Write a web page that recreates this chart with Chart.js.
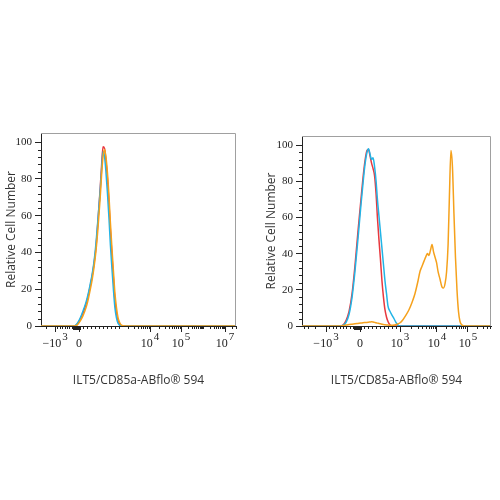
<!DOCTYPE html>
<html><head><meta charset="utf-8">
<script src="https://cdn.jsdelivr.net/npm/chart.js@4/dist/chart.umd.min.js"></script>
<style>html,body{margin:0;padding:0;background:#fff;width:500px;height:500px;overflow:hidden}canvas{position:absolute}</style>
</head><body>
<canvas id="left" width="250" height="280" style="left:0;top:120px"></canvas>
<canvas id="right" width="240" height="280" style="left:260px;top:120px"></canvas>
<script>
// ---- text ----
const axisTitleX = 'ILT5/CD85a-ABflo® 594';
const axisTitleY = 'Relative Cell Number';

// ---- y axis ----
const yTickValues = [0, 20, 40, 60, 80, 100];
const yMinorValues = [4,8,12,16,24,28,32,36,44,48,52,56,64,68,72,76,84,88,92,96];

// ---- left panel (x in display channels 0..1000) ----
const leftXTickValues = [72, 195, 559, 718, 944];
const leftXTickLabels = [['−10', '3'], ['0', ''], ['10', '4'], ['10', '5'], ['10', '7']];
const leftX = [0,149,169,185,200,215,231,241,251,262,272,282,292,303,310,318,326,333,341,349,356,364,372,379,387,395,405,415,431,1000];
const leftRed = [0,0,0,1,3.5,7,12,16,21,27,34,43,57,74,86,97.5,96.5,90,80,66,52,38,25,14,7,3,1,0,0,0];
const leftBlue = [0,0,0,1.2,4,8,13,17,22,28,35,45,58,73,84,95,92,84,72,58,44,31,19,10,4.5,1.5,0.3,0,0,0];
const leftOrange = [0,0,0,0.5,2.5,5.5,10,14,19,25,32,41,53,69,81,92,96,92,83,70,56,42,29,18,10,4.5,1.5,0.3,0,0];

// ---- right panel ----
const rightXTickValues = [127, 307, 519, 714, 878];
const rightXTickLabels = [['−10', '3'], ['0', ''], ['10', '3'], ['10', '4'], ['10', '5']];
const rightX = [0,95,175,201,217,233,249,265,280,296,312,323,333,344,352,360,368,376,384,392,399,407,415,423,431,439,447,455,466,476,487,497,508,519,534,550,566,582,598,614,624,635,646,656,664,672,680,688,696,704,712,720,730,741,749,757,765,773,780,788,796,804,812,820,828,836,847,862,1000];
const rightRed = [0,0,0,0,0.5,3,8,18,33,52,70,82,91,97,97.5,94,90,87,83,73,60,48,37,25,16,9,5,2.5,0.5,0,0,0,0,0,0,0,0,0,0,0,0,0,0,0,0,0,0,0,0,0,0,0,0,0,0,0,0,0,0,0,0,0,0,0,0,0,0,0,0];
const rightBlue = [0,0,0,0,0.3,2,6.5,16,30,48,67,79,89,96,98,95,92,93,88,80,70,61,52,43,34,25,18,11,8,6,4,2,0.5,0,0,0,0,0,0,0,0,0,0,0,0,0,0,0,0,0,0,0,0,0,0,0,0,0,0,0,0,0,0,0,0,0,0,0,0];
const rightOrange = [0,0,0,0,0.2,0.5,0.8,1.0,1.2,1.4,1.6,1.8,1.9,2.0,2.1,2.2,2.3,2.2,2.0,1.8,1.6,1.4,1.2,1.0,0.8,0.7,0.6,0.5,0.4,0.4,0.5,0.8,1.2,1.8,3.5,6,9,13,18,25,30,33,36,38.5,40,39,42,45,41,38,35,30,26,21.5,21,23.5,30,45,72,97,88,62,38,20,8,2.5,0.5,0,0];

// ---- colours ----
const RED = '#e8383e', BLUE = '#22b4e6', ORANGE = '#f5a11c';

function decadeMinors(a, b) { const o = []; for (let k = 2; k <= 9; k++) o.push(a + (b - a) * Math.log10(k)); return o; }
function linearMinors(a, b) { const o = []; for (let k = 1; k <= 9; k++) o.push(a + (b - a) * k / 10); return o; }
function cluster(z) { const o = []; for (let d = -30; d <= 6; d += 4) o.push(z + d); return o; }

const leftMinors = [].concat(decadeMinors(72, -87), linearMinors(195, 72), linearMinors(195, 400), [400],
  decadeMinors(400, 559), decadeMinors(559, 718), decadeMinors(718, 831), [831], decadeMinors(831, 944), decadeMinors(944, 1057));
const rightMinors = [].concat(decadeMinors(127, -68), linearMinors(307, 127), linearMinors(307, 519),
  decadeMinors(519, 714), decadeMinors(714, 878), decadeMinors(878, 1042));

const decor = {
  id: 'decor',
  afterDraw(chart, args, opts) {
    const ctx = chart.ctx, xs = chart.scales.x, ys = chart.scales.y, a = chart.chartArea;
    ctx.save();
    // top & right frame
    ctx.strokeStyle = '#a0a0a0'; ctx.lineWidth = 1;
    ctx.beginPath();
    ctx.moveTo(a.left, a.top + 0.5); ctx.lineTo(a.right - 0.5, a.top + 0.5); ctx.lineTo(a.right - 0.5, a.bottom);
    ctx.stroke();
    // minor ticks
    ctx.strokeStyle = '#222';
    ctx.beginPath();
    (opts.xMinor || []).forEach(v => {
      if (v < xs.min || v > xs.max) return;
      const p = Math.round(xs.getPixelForValue(v)) + 0.5;
      ctx.moveTo(p, xs.top); ctx.lineTo(p, xs.top + 3);
    });
    (opts.xCluster || []).forEach(v => {
      const p = Math.round(xs.getPixelForValue(v)) + 0.5;
      ctx.moveTo(p, xs.top); ctx.lineTo(p, xs.top + 4);
    });
    (opts.yMinor || []).forEach(v => {
      const p = Math.round(ys.getPixelForValue(v)) + 0.5;
      ctx.moveTo(ys.right, p); ctx.lineTo(ys.right - 3, p);
    });
    ctx.stroke();
    // x tick labels with raised exponents
    ctx.fillStyle = '#222';
    ctx.textBaseline = 'middle';
    ctx.textAlign = 'left';
    const baseFont = '12px "Liberation Serif"', expFont = '11px "Liberation Serif"';
    (opts.xTicks || []).forEach((v, i) => {
      const [base, exp] = opts.xLabels[i];
      ctx.font = baseFont; const wb = ctx.measureText(base).width;
      ctx.font = expFont; const we = exp ? ctx.measureText(exp).width + 1 : 0;
      const x0 = xs.getPixelForValue(v) - (wb + we) / 2;
      ctx.font = baseFont; ctx.fillText(base, x0, xs.top + 18);
      if (exp) { ctx.font = expFont; ctx.fillText(exp, x0 + wb + 1, xs.top + 11); }
    });
    ctx.restore();
  }
};

function build(id, xv, series, xTicks, xLabels, xMinor, zero, yWidth, pad) {
  const mk = (label, arr, color, order) => ({
    label, order, borderColor: color, backgroundColor: color, borderWidth: 1.5,
    pointRadius: 0, fill: false, cubicInterpolationMode: 'monotone',
    data: xv.map((x, i) => ({ x, y: arr[i] }))
  });
  return new Chart(document.getElementById(id), {
    type: 'line',
    data: { datasets: [
      mk('orange', series[2], ORANGE, 0),
      mk('blue', series[1], BLUE, 1),
      mk('red', series[0], RED, 2)
    ] },
    options: {
      responsive: false, animation: false, devicePixelRatio: 1,
      layout: { padding: pad },
      plugins: { legend: { display: false }, tooltip: { enabled: false },
        decor: { xMinor, xCluster: cluster(zero), yMinor: yMinorValues, xTicks, xLabels } },
      scales: {
        x: {
          type: 'linear', min: 0, max: 1000,
          afterBuildTicks: s => { s.ticks = xTicks.map(v => ({ value: v })); },
          afterFit: s => { s.height = 74; },
          grid: { display: true, drawOnChartArea: false, drawTicks: true, tickLength: 6, tickColor: '#222', tickWidth: 1 },
          border: { display: true, color: '#222', width: 1 },
          ticks: { display: false, autoSkip: false, maxRotation: 0 },
          title: { display: true, text: axisTitleX, color: '#333',
            font: { family: 'Open Sans', size: 12 }, padding: { top: 0, bottom: 12 } }
        },
        y: {
          type: 'linear', min: 0, max: 105,
          afterBuildTicks: s => { s.ticks = yTickValues.map(v => ({ value: v })); },
          afterFit: s => { s.width = yWidth; },
          grid: { display: true, drawOnChartArea: false, drawTicks: true, tickLength: 6, tickColor: '#222', tickWidth: 1 },
          border: { display: true, color: '#222', width: 1 },
          ticks: { padding: 3, color: '#222', font: { family: 'Liberation Serif', size: 11 },
            callback: v => String(v) },
          title: { display: true, text: axisTitleY, color: '#333',
            font: { family: 'Open Sans', size: 12 }, padding: { top: 4, bottom: 0 } }
        }
      }
    },
    plugins: [decor]
  });
}

build('left', leftX, [leftRed, leftBlue, leftOrange], leftXTickValues, leftXTickLabels, leftMinors, 195, 41,
  { top: 13, right: 14, left: 0, bottom: 0 });
build('right', rightX, [rightRed, rightBlue, rightOrange], rightXTickValues, rightXTickLabels, rightMinors, 307, 42,
  { top: 16, right: 9, left: 0, bottom: 0 });
</script>
</body></html>
